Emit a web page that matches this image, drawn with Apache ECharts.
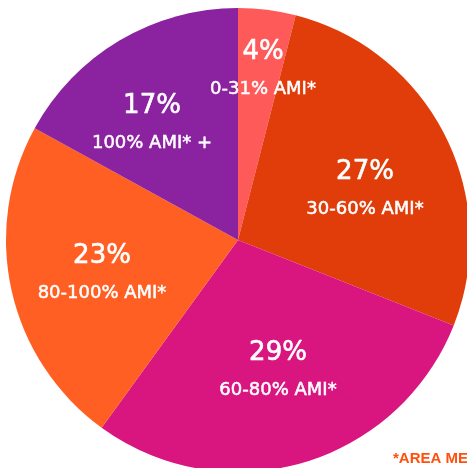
<!DOCTYPE html>
<html><head><meta charset="utf-8">
<script src="https://cdn.jsdelivr.net/npm/echarts@6/dist/echarts.min.js"></script>
<style>html,body{margin:0;padding:0;background:#fff}#c{width:467px;height:468px}</style>
</head><body><div id="c"></div>
<script>
const categories = ['0-31% AMI*', '30-60% AMI*', '60-80% AMI*', '80-100% AMI*', '100% AMI* +'];
const values = [4, 27, 29, 23, 17];
const colors = ['#FF5A5A', '#E03D0A', '#D9167F', '#FF5F22', '#8B22A0'];
const footnote = '*AREA MEDIAN INCOME';

const labelPos = [[263, 67], [365, 187], [278, 368], [102, 271], [152, 121]];

const chart = echarts.init(document.getElementById('c'), null, {renderer: 'canvas'});
chart.setOption({
  animation: false,
  backgroundColor: '#ffffff',
  series: [{
    type: 'pie',
    center: [238, 240],
    radius: [0, 232],
    startAngle: 90,
    clockwise: true,
    silent: true,
    label: {
      show: true,
      position: 'inside',
      formatter: '{p|{c}%}\n{n|{b}}',
      rich: {
        p: {fontFamily: 'DejaVu Sans', fontSize: 26, fontWeight: 'normal', color: '#fff', lineHeight: 44, align: 'center',
            textBorderColor: '#fff', textBorderWidth: 0.6},
        n: {fontFamily: 'DejaVu Sans', fontSize: 18, fontWeight: 'normal', color: '#fff', lineHeight: 30, align: 'center',
            textBorderColor: '#fff', textBorderWidth: 0.5}
      }
    },
    labelLine: {show: false},
    labelLayout: function (p) {
      const pos = labelPos[p.dataIndex];
      return {x: pos[0], y: pos[1], align: 'center', verticalAlign: 'middle'};
    },
    itemStyle: {borderWidth: 0},
    data: categories.map((c, i) => ({name: c, value: values[i], itemStyle: {color: colors[i]}}))
  }],
  graphic: [{
    type: 'text',
    x: 393,
    y: 459,
    style: {text: footnote, fill: '#FF5010', font: 'bold 15px "Liberation Sans"', verticalAlign: 'middle', align: 'left'}
  }]
});
</script></body></html>
